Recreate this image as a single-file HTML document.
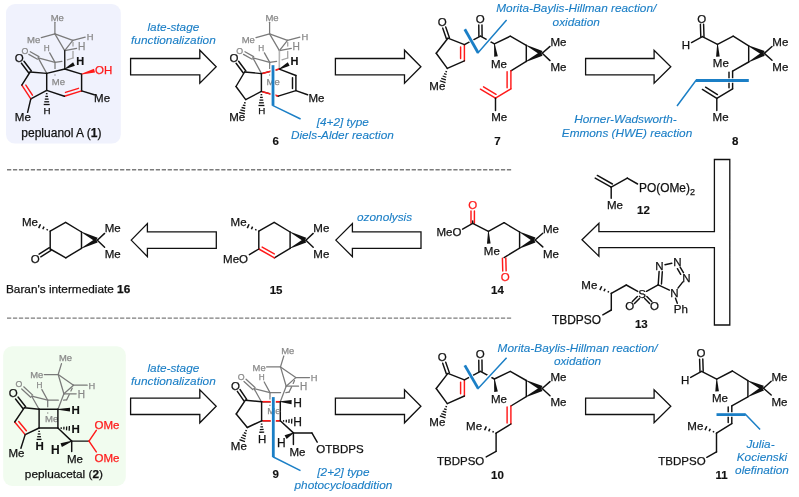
<!DOCTYPE html>
<html><head><meta charset="utf-8"><title>Retrosynthesis</title>
<style>
html,body{margin:0;padding:0;background:#fff;}
body{width:799px;height:497px;overflow:hidden;}
svg{display:block;will-change:transform;font-family:"Liberation Sans",sans-serif;}
</style></head><body>
<svg width="799" height="497" viewBox="0 0 799 497">
<rect width="799" height="497" fill="#fff"/>
<rect x="6" y="4" width="114.8" height="139.6" rx="9" ry="9" fill="#f0f2fd"/>
<rect x="3.2" y="346.3" width="122.6" height="139.7" rx="9" ry="9" fill="#f1fcef"/>
<line x1="7" y1="169.7" x2="511.3" y2="169.7" stroke="#7c7c7c" stroke-width="1.35" stroke-dasharray="4.25 1.701"/>
<line x1="7" y1="318.1" x2="511.3" y2="318.1" stroke="#7c7c7c" stroke-width="1.35" stroke-dasharray="4.25 1.701"/>
<polygon points="130.6,58.5 199.8,58.5 199.8,50.2 216.2,66.7 199.8,83.2 199.8,74.9 130.6,74.9" fill="#fff" stroke="#111" stroke-width="1.3" stroke-linejoin="miter"/>
<polygon points="335.4,58.5 404.5,58.5 404.5,50.2 420.9,66.7 404.5,83.2 404.5,74.9 335.4,74.9" fill="#fff" stroke="#111" stroke-width="1.3" stroke-linejoin="miter"/>
<polygon points="585.6,58.5 654.1,58.5 654.1,50.2 670.8,66.7 654.1,83.2 654.1,74.9 585.6,74.9" fill="#fff" stroke="#111" stroke-width="1.3" stroke-linejoin="miter"/>
<polygon points="130.6,398.1 199.8,398.1 199.8,389.8 216.2,406.3 199.8,422.8 199.8,414.5 130.6,414.5" fill="#fff" stroke="#111" stroke-width="1.3" stroke-linejoin="miter"/>
<polygon points="335.4,398.1 404.5,398.1 404.5,389.8 420.9,406.3 404.5,422.8 404.5,414.5 335.4,414.5" fill="#fff" stroke="#111" stroke-width="1.3" stroke-linejoin="miter"/>
<polygon points="585.6,398.1 654.1,398.1 654.1,389.8 670.8,406.3 654.1,422.8 654.1,414.5 585.6,414.5" fill="#fff" stroke="#111" stroke-width="1.3" stroke-linejoin="miter"/>
<polygon points="131.2,240.1 147.4,223.6 147.4,231.9 216.3,231.9 216.3,248.3 147.4,248.3 147.4,256.6" fill="#fff" stroke="#111" stroke-width="1.3" stroke-linejoin="miter"/>
<polygon points="335.8,240.1 352.4,223.6 352.4,231.9 421,231.9 421,248.3 352.4,248.3 352.4,256.6" fill="#fff" stroke="#111" stroke-width="1.3" stroke-linejoin="miter"/>
<polygon points="582,239.7 598.9,223.3 598.9,231.7 714.4,231.7 714.4,159.5 729.8,159.5 729.8,325 714.4,325 714.4,247.7 598.9,247.7 598.9,256.1" fill="#fff" stroke="#111" stroke-width="1.3" stroke-linejoin="miter"/>
<text x="57.3" y="20.62" font-size="9.5" fill="#8a8a8a" stroke="#8a8a8a" stroke-width="0.25" text-anchor="middle" font-weight="normal" font-style="normal">Me</text>
<line x1="54.9" y1="33.9" x2="54.9" y2="22.3" stroke="#7a7a7a" stroke-width="1.25" stroke-linecap="round"/>
<text x="33.6" y="43.03" font-size="9.5" fill="#8a8a8a" stroke="#8a8a8a" stroke-width="0.25" text-anchor="middle" font-weight="normal" font-style="normal">Me</text>
<line x1="54.9" y1="33.9" x2="41.3" y2="37.6" stroke="#7a7a7a" stroke-width="1.25" stroke-linecap="round"/>
<line x1="54.9" y1="33.9" x2="72.8" y2="40.3" stroke="#7a7a7a" stroke-width="1.25" stroke-linecap="round"/>
<line x1="54.9" y1="33.9" x2="64.7" y2="50.6" stroke="#7a7a7a" stroke-width="1.25" stroke-linecap="round"/>
<line x1="72.8" y1="40.3" x2="64.7" y2="50.6" stroke="#7a7a7a" stroke-width="1.25" stroke-linecap="round"/>
<text x="90.2" y="39.69" font-size="9.4" fill="#8a8a8a" stroke="#8a8a8a" stroke-width="0.25" text-anchor="middle" font-weight="normal" font-style="normal">H</text>
<line x1="72.8" y1="40.3" x2="85.2" y2="37.1" stroke="#7a7a7a" stroke-width="1.25" stroke-linecap="round"/>
<line x1="73" y1="42.5" x2="73" y2="46" stroke="#a4a4a4" stroke-width="1.3" stroke-linecap="round"/>
<line x1="73" y1="51.5" x2="73" y2="58" stroke="#a4a4a4" stroke-width="1.3" stroke-linecap="round"/>
<line x1="73" y1="58" x2="67.3" y2="59.8" stroke="#a4a4a4" stroke-width="1.3" stroke-linecap="round"/>
<line x1="61.9" y1="61.3" x2="55" y2="62.4" stroke="#7a7a7a" stroke-width="1.25" stroke-linecap="round"/>
<text x="81.6" y="50.47" font-size="10.2" fill="#8a8a8a" stroke="#8a8a8a" stroke-width="0.25" text-anchor="middle" font-weight="normal" font-style="normal">H</text>
<line x1="64.7" y1="50.6" x2="76.6" y2="48.3" stroke="#7a7a7a" stroke-width="1.25" stroke-linecap="round"/>
<text x="46.6" y="50.67" font-size="8.2" fill="#8a8a8a" stroke="#8a8a8a" stroke-width="0.25" text-anchor="middle" font-weight="normal" font-style="normal">H</text>
<line x1="55" y1="62.4" x2="49.7" y2="52.9" stroke="#7a7a7a" stroke-width="1.25" stroke-linecap="round"/>
<line x1="55" y1="62.4" x2="38.2" y2="57.9" stroke="#7a7a7a" stroke-width="1.25" stroke-linecap="round"/>
<line x1="38.93" y1="56.59" x2="30.27" y2="51.73" stroke="#7a7a7a" stroke-width="1.25" stroke-linecap="round"/>
<line x1="37.47" y1="59.21" x2="28.8" y2="54.35" stroke="#7a7a7a" stroke-width="1.25" stroke-linecap="round"/>
<text x="25" y="53.58" font-size="8.8" fill="#8a8a8a" stroke="#8a8a8a" stroke-width="0.25" text-anchor="middle" font-weight="normal" font-style="normal">O</text>
<line x1="38.2" y1="57.9" x2="46.7" y2="73.4" stroke="#7a7a7a" stroke-width="1.25" stroke-linecap="round"/>
<line x1="55" y1="62.4" x2="55" y2="69" stroke="#7a7a7a" stroke-width="1.25" stroke-linecap="butt"/>
<line x1="55" y1="74.4" x2="55" y2="75.6" stroke="#7a7a7a" stroke-width="1.25" stroke-linecap="butt"/>
<text x="58.4" y="84.53" font-size="9.5" fill="#8a8a8a" stroke="#8a8a8a" stroke-width="0.25" text-anchor="middle" font-weight="normal" font-style="normal">Me</text>
<line x1="64.7" y1="50.6" x2="64.8" y2="69" stroke="#222" stroke-width="1.45" stroke-linecap="round"/>
<text x="272" y="20.62" font-size="9.5" fill="#8a8a8a" stroke="#8a8a8a" stroke-width="0.25" text-anchor="middle" font-weight="normal" font-style="normal">Me</text>
<line x1="269.6" y1="33.9" x2="269.6" y2="22.3" stroke="#7a7a7a" stroke-width="1.25" stroke-linecap="round"/>
<text x="248.3" y="43.03" font-size="9.5" fill="#8a8a8a" stroke="#8a8a8a" stroke-width="0.25" text-anchor="middle" font-weight="normal" font-style="normal">Me</text>
<line x1="269.6" y1="33.9" x2="256" y2="37.6" stroke="#7a7a7a" stroke-width="1.25" stroke-linecap="round"/>
<line x1="269.6" y1="33.9" x2="287.5" y2="40.3" stroke="#7a7a7a" stroke-width="1.25" stroke-linecap="round"/>
<line x1="269.6" y1="33.9" x2="279.4" y2="50.6" stroke="#7a7a7a" stroke-width="1.25" stroke-linecap="round"/>
<line x1="287.5" y1="40.3" x2="279.4" y2="50.6" stroke="#7a7a7a" stroke-width="1.25" stroke-linecap="round"/>
<text x="304.9" y="39.69" font-size="9.4" fill="#8a8a8a" stroke="#8a8a8a" stroke-width="0.25" text-anchor="middle" font-weight="normal" font-style="normal">H</text>
<line x1="287.5" y1="40.3" x2="299.9" y2="37.1" stroke="#7a7a7a" stroke-width="1.25" stroke-linecap="round"/>
<line x1="287.7" y1="42.5" x2="287.7" y2="46" stroke="#a4a4a4" stroke-width="1.3" stroke-linecap="round"/>
<line x1="287.7" y1="51.5" x2="287.7" y2="58" stroke="#a4a4a4" stroke-width="1.3" stroke-linecap="round"/>
<line x1="287.7" y1="58" x2="282" y2="59.8" stroke="#a4a4a4" stroke-width="1.3" stroke-linecap="round"/>
<line x1="276.6" y1="61.3" x2="269.7" y2="62.4" stroke="#7a7a7a" stroke-width="1.25" stroke-linecap="round"/>
<text x="296.3" y="50.47" font-size="10.2" fill="#8a8a8a" stroke="#8a8a8a" stroke-width="0.25" text-anchor="middle" font-weight="normal" font-style="normal">H</text>
<line x1="279.4" y1="50.6" x2="291.3" y2="48.3" stroke="#7a7a7a" stroke-width="1.25" stroke-linecap="round"/>
<text x="261.3" y="50.67" font-size="8.2" fill="#8a8a8a" stroke="#8a8a8a" stroke-width="0.25" text-anchor="middle" font-weight="normal" font-style="normal">H</text>
<line x1="269.7" y1="62.4" x2="264.4" y2="52.9" stroke="#7a7a7a" stroke-width="1.25" stroke-linecap="round"/>
<line x1="269.7" y1="62.4" x2="252.9" y2="57.9" stroke="#7a7a7a" stroke-width="1.25" stroke-linecap="round"/>
<line x1="253.63" y1="56.59" x2="244.97" y2="51.73" stroke="#7a7a7a" stroke-width="1.25" stroke-linecap="round"/>
<line x1="252.17" y1="59.21" x2="243.5" y2="54.35" stroke="#7a7a7a" stroke-width="1.25" stroke-linecap="round"/>
<text x="239.7" y="53.58" font-size="8.8" fill="#8a8a8a" stroke="#8a8a8a" stroke-width="0.25" text-anchor="middle" font-weight="normal" font-style="normal">O</text>
<line x1="252.9" y1="57.9" x2="261.4" y2="73.4" stroke="#7a7a7a" stroke-width="1.25" stroke-linecap="round"/>
<line x1="269.7" y1="62.4" x2="269.7" y2="69" stroke="#7a7a7a" stroke-width="1.25" stroke-linecap="butt"/>
<line x1="269.7" y1="74.4" x2="269.7" y2="75.6" stroke="#7a7a7a" stroke-width="1.25" stroke-linecap="butt"/>
<line x1="279.4" y1="50.6" x2="279.3" y2="68.4" stroke="#b4b4b4" stroke-width="1.6" stroke-linecap="butt"/>
<line x1="31.38" y1="71.03" x2="23.98" y2="61.26" stroke="#111" stroke-width="1.45" stroke-linecap="round"/>
<line x1="28.82" y1="72.97" x2="21.42" y2="63.19" stroke="#111" stroke-width="1.45" stroke-linecap="round"/>
<text x="19.2" y="61.62" font-size="11.5" fill="#111" stroke="#111" stroke-width="0.25" text-anchor="middle" font-weight="normal" font-style="normal">O</text>
<line x1="30.1" y1="72" x2="46.7" y2="73.4" stroke="#111" stroke-width="1.45" stroke-linecap="round"/>
<line x1="46.7" y1="73.4" x2="64.8" y2="69" stroke="#111" stroke-width="1.45" stroke-linecap="round"/>
<line x1="64.8" y1="69" x2="81.6" y2="74.1" stroke="#111" stroke-width="1.45" stroke-linecap="round"/>
<line x1="81.6" y1="74.1" x2="81.6" y2="90.9" stroke="#111" stroke-width="1.45" stroke-linecap="round"/>
<line x1="81.6" y1="90.9" x2="64.4" y2="96.3" stroke="#ff1a1a" stroke-width="1.45" stroke-linecap="round"/>
<line x1="78.48" y1="88.32" x2="65.48" y2="92.4" stroke="#ff1a1a" stroke-width="1.45" stroke-linecap="round"/>
<line x1="64.4" y1="96.3" x2="46.7" y2="90.4" stroke="#111" stroke-width="1.45" stroke-linecap="round"/>
<line x1="46.7" y1="90.4" x2="46.7" y2="73.4" stroke="#111" stroke-width="1.45" stroke-linecap="round"/>
<line x1="46.7" y1="90.4" x2="30.8" y2="98.9" stroke="#111" stroke-width="1.45" stroke-linecap="round"/>
<line x1="30.8" y1="98.9" x2="21.8" y2="85.1" stroke="#ff1a1a" stroke-width="1.45" stroke-linecap="round"/>
<line x1="32.45" y1="95.2" x2="25.85" y2="85.09" stroke="#ff1a1a" stroke-width="1.45" stroke-linecap="round"/>
<line x1="21.8" y1="85.1" x2="30.1" y2="72" stroke="#111" stroke-width="1.45" stroke-linecap="round"/>
<line x1="81.6" y1="90.9" x2="94.3" y2="94.8" stroke="#111" stroke-width="1.45" stroke-linecap="round"/>
<text x="102.1" y="101.83" font-size="11.5" fill="#111" stroke="#111" stroke-width="0.25" text-anchor="middle" font-weight="normal" font-style="normal">Me</text>
<line x1="30.8" y1="98.9" x2="27.6" y2="112.3" stroke="#111" stroke-width="1.45" stroke-linecap="round"/>
<text x="22.8" y="120.83" font-size="11.5" fill="#111" stroke="#111" stroke-width="0.25" text-anchor="middle" font-weight="normal" font-style="normal">Me</text>
<line x1="45.89" y1="93.7" x2="47.51" y2="93.7" stroke="#111" stroke-width="1.3" stroke-linecap="butt"/>
<line x1="45.35" y1="96.4" x2="48.05" y2="96.4" stroke="#111" stroke-width="1.3" stroke-linecap="butt"/>
<line x1="44.81" y1="99.1" x2="48.59" y2="99.1" stroke="#111" stroke-width="1.3" stroke-linecap="butt"/>
<line x1="44.27" y1="101.8" x2="49.13" y2="101.8" stroke="#111" stroke-width="1.3" stroke-linecap="butt"/>
<line x1="43.73" y1="104.5" x2="49.67" y2="104.5" stroke="#111" stroke-width="1.3" stroke-linecap="butt"/>
<text x="47" y="113.93" font-size="9.8" fill="#111" stroke="#111" stroke-width="0.25" text-anchor="middle" font-weight="normal" font-style="normal">H</text>
<polygon points="64.97,69.31 74.91,65.67 73.09,62.33 64.63,68.69" fill="#111" stroke="none" stroke-width="0" stroke-linejoin="miter"/>
<text x="80.3" y="65.05" font-size="11" fill="#111" stroke="#111" stroke-width="0.15" text-anchor="middle" font-weight="bold" font-style="normal">H</text>
<polygon points="81.69,74.44 95,72.43 94,68.77 81.51,73.76" fill="#ff1a1a" stroke="none" stroke-width="0" stroke-linejoin="miter"/>
<text x="103.6" y="74.43" font-size="11.5" fill="#ff1a1a" stroke="#ff1a1a" stroke-width="0.25" text-anchor="middle" font-weight="normal" font-style="normal">OH</text>
<text x="61.4" y="136.8" font-size="12" fill="#111" stroke="#111" stroke-width="0.25" text-anchor="middle" font-weight="normal" font-style="normal">pepluanol A (<tspan font-weight="bold">1</tspan>)</text>
<line x1="245.88" y1="71.05" x2="238.64" y2="61.3" stroke="#111" stroke-width="1.45" stroke-linecap="round"/>
<line x1="243.32" y1="72.95" x2="236.08" y2="63.21" stroke="#111" stroke-width="1.45" stroke-linecap="round"/>
<text x="233.9" y="61.62" font-size="11.5" fill="#111" stroke="#111" stroke-width="0.25" text-anchor="middle" font-weight="normal" font-style="normal">O</text>
<line x1="244.6" y1="72" x2="261.4" y2="73.6" stroke="#111" stroke-width="1.45" stroke-linecap="round"/>
<line x1="261.4" y1="73.6" x2="279.3" y2="69.1" stroke="#111" stroke-width="1.45" stroke-linecap="round"/>
<line x1="279.3" y1="69.1" x2="295.9" y2="75.5" stroke="#111" stroke-width="1.45" stroke-linecap="round"/>
<line x1="295.9" y1="75.5" x2="295.9" y2="90.6" stroke="#111" stroke-width="1.45" stroke-linecap="round"/>
<line x1="292.5" y1="77.7" x2="292.5" y2="88.4" stroke="#111" stroke-width="1.45" stroke-linecap="round"/>
<line x1="295.9" y1="90.6" x2="278.2" y2="96.1" stroke="#111" stroke-width="1.45" stroke-linecap="round"/>
<line x1="278.2" y1="96.1" x2="261.4" y2="91.4" stroke="#111" stroke-width="1.45" stroke-linecap="round"/>
<line x1="261.4" y1="91.4" x2="261.4" y2="73.6" stroke="#111" stroke-width="1.45" stroke-linecap="round"/>
<line x1="261.4" y1="91.4" x2="245.7" y2="99.6" stroke="#111" stroke-width="1.45" stroke-linecap="round"/>
<line x1="245.7" y1="99.6" x2="236" y2="86.5" stroke="#111" stroke-width="1.45" stroke-linecap="round"/>
<line x1="236" y1="86.5" x2="244.6" y2="72" stroke="#111" stroke-width="1.45" stroke-linecap="round"/>
<line x1="262.29" y1="73.38" x2="279.3" y2="69.1" stroke="#ff1a1a" stroke-width="1.55" stroke-linecap="butt"/>
<line x1="262.24" y1="91.64" x2="278.2" y2="96.1" stroke="#ff1a1a" stroke-width="1.55" stroke-linecap="butt"/>
<line x1="295.9" y1="90.6" x2="307.6" y2="94.8" stroke="#111" stroke-width="1.45" stroke-linecap="round"/>
<text x="316.4" y="101.53" font-size="11.5" fill="#111" stroke="#111" stroke-width="0.25" text-anchor="middle" font-weight="normal" font-style="normal">Me</text>
<line x1="260.59" y1="94.7" x2="262.21" y2="94.7" stroke="#111" stroke-width="1.3" stroke-linecap="butt"/>
<line x1="260.05" y1="97.4" x2="262.75" y2="97.4" stroke="#111" stroke-width="1.3" stroke-linecap="butt"/>
<line x1="259.51" y1="100.1" x2="263.29" y2="100.1" stroke="#111" stroke-width="1.3" stroke-linecap="butt"/>
<line x1="258.97" y1="102.8" x2="263.83" y2="102.8" stroke="#111" stroke-width="1.3" stroke-linecap="butt"/>
<line x1="258.43" y1="105.5" x2="264.37" y2="105.5" stroke="#111" stroke-width="1.3" stroke-linecap="butt"/>
<text x="261.9" y="113.73" font-size="9.8" fill="#111" stroke="#111" stroke-width="0.25" text-anchor="middle" font-weight="normal" font-style="normal">H</text>
<line x1="244.05" y1="102.57" x2="245.62" y2="103" stroke="#111" stroke-width="1.3" stroke-linecap="butt"/>
<line x1="242.82" y1="105.04" x2="245.43" y2="105.74" stroke="#111" stroke-width="1.3" stroke-linecap="butt"/>
<line x1="241.59" y1="107.5" x2="245.24" y2="108.49" stroke="#111" stroke-width="1.3" stroke-linecap="butt"/>
<line x1="240.36" y1="109.96" x2="245.05" y2="111.24" stroke="#111" stroke-width="1.3" stroke-linecap="butt"/>
<line x1="239.13" y1="112.43" x2="244.86" y2="113.99" stroke="#111" stroke-width="1.3" stroke-linecap="butt"/>
<text x="237.2" y="121.43" font-size="11.5" fill="#111" stroke="#111" stroke-width="0.25" text-anchor="middle" font-weight="normal" font-style="normal">Me</text>
<polygon points="279.47,69.41 289.61,65.67 287.79,62.33 279.13,68.79" fill="#111" stroke="none" stroke-width="0" stroke-linejoin="miter"/>
<text x="294.5" y="65.05" font-size="11" fill="#111" stroke="#111" stroke-width="0.15" text-anchor="middle" font-weight="bold" font-style="normal">H</text>
<polyline points="273,65.2 273,105.6 300.6,119" fill="none" stroke="#fff" stroke-width="5" stroke-linejoin="miter" stroke-linecap="butt"/>
<text x="273.1" y="84.53" font-size="9.5" fill="#8a8a8a" stroke="#8a8a8a" stroke-width="0.25" text-anchor="middle" font-weight="normal" font-style="normal">Me</text>
<polyline points="273,65.2 273,105.6" fill="none" stroke="#1b7fc6" stroke-width="2.8" stroke-linejoin="miter" stroke-linecap="butt"/>
<polyline points="273,104.5 273,105.6 300.6,119" fill="none" stroke="#1b7fc6" stroke-width="1.5" stroke-linejoin="miter" stroke-linecap="butt"/>
<text x="275.8" y="145.33" font-size="11.5" fill="#111" stroke="#111" stroke-width="0.15" text-anchor="middle" font-weight="bold" font-style="normal">6</text>
<text x="342.8" y="125.7" font-size="11.8" fill="#1b7fc6" stroke="#1b7fc6" stroke-width="0.12" text-anchor="middle" font-weight="normal" font-style="italic">[4+2] type</text>
<text x="342.4" y="138.7" font-size="11.8" fill="#1b7fc6" stroke="#1b7fc6" stroke-width="0.12" text-anchor="middle" font-weight="normal" font-style="italic">Diels-Alder reaction</text>
<text x="173.4" y="30.8" font-size="11.8" fill="#1b7fc6" stroke="#1b7fc6" stroke-width="0.12" text-anchor="middle" font-weight="normal" font-style="italic">late-stage</text>
<text x="173.4" y="44.1" font-size="11.8" fill="#1b7fc6" stroke="#1b7fc6" stroke-width="0.12" text-anchor="middle" font-weight="normal" font-style="italic">functionalization</text>
<text x="173.4" y="371.9" font-size="11.8" fill="#1b7fc6" stroke="#1b7fc6" stroke-width="0.12" text-anchor="middle" font-weight="normal" font-style="italic">late-stage</text>
<text x="173.4" y="384.8" font-size="11.8" fill="#1b7fc6" stroke="#1b7fc6" stroke-width="0.12" text-anchor="middle" font-weight="normal" font-style="italic">functionalization</text>
<text x="384.6" y="221.3" font-size="11.8" fill="#1b7fc6" stroke="#1b7fc6" stroke-width="0.12" text-anchor="middle" font-weight="normal" font-style="italic">ozonolysis</text>
<line x1="449.41" y1="37.67" x2="445.72" y2="27.05" stroke="#111" stroke-width="1.45" stroke-linecap="round"/>
<line x1="446.39" y1="38.73" x2="442.69" y2="28.1" stroke="#111" stroke-width="1.45" stroke-linecap="round"/>
<text x="442.3" y="26.12" font-size="11.5" fill="#111" stroke="#111" stroke-width="0.25" text-anchor="middle" font-weight="normal" font-style="normal">O</text>
<line x1="447.9" y1="38.2" x2="464.4" y2="44.7" stroke="#111" stroke-width="1.45" stroke-linecap="round"/>
<line x1="464.4" y1="44.7" x2="464.4" y2="60.8" stroke="#ff1a1a" stroke-width="1.45" stroke-linecap="round"/>
<line x1="460.6" y1="46.9" x2="460.6" y2="58.6" stroke="#ff1a1a" stroke-width="1.45" stroke-linecap="round"/>
<line x1="464.4" y1="60.8" x2="447.3" y2="68.4" stroke="#111" stroke-width="1.45" stroke-linecap="round"/>
<line x1="447.3" y1="68.4" x2="436.2" y2="53.3" stroke="#111" stroke-width="1.45" stroke-linecap="round"/>
<line x1="436.2" y1="53.3" x2="447.9" y2="38.2" stroke="#111" stroke-width="1.45" stroke-linecap="round"/>
<line x1="445.46" y1="71.26" x2="446.99" y2="71.78" stroke="#111" stroke-width="1.3" stroke-linecap="butt"/>
<line x1="444.07" y1="73.63" x2="446.62" y2="74.51" stroke="#111" stroke-width="1.3" stroke-linecap="butt"/>
<line x1="442.68" y1="76.01" x2="446.25" y2="77.24" stroke="#111" stroke-width="1.3" stroke-linecap="butt"/>
<line x1="441.28" y1="78.38" x2="445.88" y2="79.97" stroke="#111" stroke-width="1.3" stroke-linecap="butt"/>
<line x1="439.89" y1="80.76" x2="445.51" y2="82.7" stroke="#111" stroke-width="1.3" stroke-linecap="butt"/>
<text x="437.3" y="90.43" font-size="11.5" fill="#111" stroke="#111" stroke-width="0.25" text-anchor="middle" font-weight="normal" font-style="normal">Me</text>
<line x1="464.4" y1="44.7" x2="480.5" y2="36.2" stroke="#111" stroke-width="1.45" stroke-linecap="round"/>
<line x1="482.1" y1="36.18" x2="481.97" y2="24.88" stroke="#111" stroke-width="1.45" stroke-linecap="round"/>
<line x1="478.9" y1="36.22" x2="478.77" y2="24.92" stroke="#111" stroke-width="1.45" stroke-linecap="round"/>
<text x="480.3" y="23.12" font-size="11.5" fill="#111" stroke="#111" stroke-width="0.25" text-anchor="middle" font-weight="normal" font-style="normal">O</text>
<line x1="480.5" y1="36.2" x2="494.4" y2="43.8" stroke="#111" stroke-width="1.45" stroke-linecap="round"/>
<polygon points="494.05,43.84 494.21,56.72 497.79,56.28 494.75,43.76" fill="#111" stroke="none" stroke-width="0" stroke-linejoin="miter"/>
<text x="498.9" y="68.03" font-size="11.5" fill="#111" stroke="#111" stroke-width="0.25" text-anchor="middle" font-weight="normal" font-style="normal">Me</text>
<line x1="494.4" y1="43.8" x2="510.3" y2="36.2" stroke="#111" stroke-width="1.45" stroke-linecap="round"/>
<line x1="510.3" y1="36.2" x2="526.3" y2="45.3" stroke="#111" stroke-width="1.45" stroke-linecap="round"/>
<line x1="526.3" y1="45.3" x2="526.3" y2="61.4" stroke="#111" stroke-width="1.45" stroke-linecap="round"/>
<polygon points="526.14,45.61 540.45,55 542.52,50.89 526.46,44.99" fill="#111" stroke="none" stroke-width="0" stroke-linejoin="miter"/>
<polygon points="526.46,61.71 542.53,55.71 540.44,51.61 526.14,61.09" fill="#111" stroke="none" stroke-width="0" stroke-linejoin="miter"/>
<line x1="542.2" y1="53.3" x2="550" y2="46.4" stroke="#111" stroke-width="1.45" stroke-linecap="round"/>
<text x="558.4" y="45.92" font-size="11.5" fill="#111" stroke="#111" stroke-width="0.25" text-anchor="middle" font-weight="normal" font-style="normal">Me</text>
<line x1="542.2" y1="53.3" x2="550" y2="60.6" stroke="#111" stroke-width="1.45" stroke-linecap="round"/>
<text x="558.4" y="70.83" font-size="11.5" fill="#111" stroke="#111" stroke-width="0.25" text-anchor="middle" font-weight="normal" font-style="normal">Me</text>
<line x1="526.3" y1="61.4" x2="510.9" y2="70.8" stroke="#111" stroke-width="1.45" stroke-linecap="round"/>
<line x1="510.9" y1="70.8" x2="510.9" y2="88.8" stroke="#ff1a1a" stroke-width="1.45" stroke-linecap="round"/>
<line x1="507.1" y1="71.8" x2="507.1" y2="87.8" stroke="#ff1a1a" stroke-width="1.45" stroke-linecap="round"/>
<line x1="510.9" y1="88.8" x2="495.5" y2="98.2" stroke="#ff1a1a" stroke-width="1.45" stroke-linecap="round"/>
<line x1="495.5" y1="98.2" x2="480.4" y2="89.2" stroke="#ff1a1a" stroke-width="1.45" stroke-linecap="round"/>
<line x1="496.05" y1="94.34" x2="483.53" y2="86.88" stroke="#ff1a1a" stroke-width="1.45" stroke-linecap="round"/>
<line x1="495.5" y1="98.2" x2="495.5" y2="110.4" stroke="#111" stroke-width="1.45" stroke-linecap="round"/>
<text x="499.2" y="121.03" font-size="11.5" fill="#111" stroke="#111" stroke-width="0.25" text-anchor="middle" font-weight="normal" font-style="normal">Me</text>
<text x="497.5" y="145.33" font-size="11.5" fill="#111" stroke="#111" stroke-width="0.15" text-anchor="middle" font-weight="bold" font-style="normal">7</text>
<polyline points="464.8,29.2 478.1,52.7 506.6,20.1" fill="none" stroke="#fff" stroke-width="4.5" stroke-linejoin="miter" stroke-linecap="butt"/>
<polyline points="464.8,29.2 478.1,52.7" fill="none" stroke="#1b7fc6" stroke-width="2.8" stroke-linejoin="miter" stroke-linecap="butt"/>
<polyline points="477.5,51.6 478.1,52.7 506.6,20.1" fill="none" stroke="#1b7fc6" stroke-width="1.5" stroke-linejoin="miter" stroke-linecap="butt"/>
<text x="496.3" y="12" font-size="11.8" fill="#1b7fc6" stroke="#1b7fc6" stroke-width="0.12" text-anchor="start" font-weight="normal" font-style="italic">Morita-Baylis-Hillman reaction/</text>
<text x="576.2" y="25.6" font-size="11.8" fill="#1b7fc6" stroke="#1b7fc6" stroke-width="0.12" text-anchor="middle" font-weight="normal" font-style="italic">oxidation</text>
<line x1="449.41" y1="372.87" x2="445.72" y2="362.25" stroke="#111" stroke-width="1.45" stroke-linecap="round"/>
<line x1="446.39" y1="373.93" x2="442.69" y2="363.3" stroke="#111" stroke-width="1.45" stroke-linecap="round"/>
<text x="442.3" y="361.32" font-size="11.5" fill="#111" stroke="#111" stroke-width="0.25" text-anchor="middle" font-weight="normal" font-style="normal">O</text>
<line x1="447.9" y1="373.4" x2="464.4" y2="379.9" stroke="#111" stroke-width="1.45" stroke-linecap="round"/>
<line x1="464.4" y1="379.9" x2="464.4" y2="396" stroke="#ff1a1a" stroke-width="1.45" stroke-linecap="round"/>
<line x1="460.6" y1="382.1" x2="460.6" y2="393.8" stroke="#ff1a1a" stroke-width="1.45" stroke-linecap="round"/>
<line x1="464.4" y1="396" x2="447.3" y2="403.6" stroke="#111" stroke-width="1.45" stroke-linecap="round"/>
<line x1="447.3" y1="403.6" x2="436.2" y2="388.5" stroke="#111" stroke-width="1.45" stroke-linecap="round"/>
<line x1="436.2" y1="388.5" x2="447.9" y2="373.4" stroke="#111" stroke-width="1.45" stroke-linecap="round"/>
<line x1="445.46" y1="406.46" x2="446.99" y2="406.98" stroke="#111" stroke-width="1.3" stroke-linecap="butt"/>
<line x1="444.07" y1="408.83" x2="446.62" y2="409.71" stroke="#111" stroke-width="1.3" stroke-linecap="butt"/>
<line x1="442.68" y1="411.21" x2="446.25" y2="412.44" stroke="#111" stroke-width="1.3" stroke-linecap="butt"/>
<line x1="441.28" y1="413.58" x2="445.88" y2="415.17" stroke="#111" stroke-width="1.3" stroke-linecap="butt"/>
<line x1="439.89" y1="415.96" x2="445.51" y2="417.9" stroke="#111" stroke-width="1.3" stroke-linecap="butt"/>
<text x="437.3" y="425.62" font-size="11.5" fill="#111" stroke="#111" stroke-width="0.25" text-anchor="middle" font-weight="normal" font-style="normal">Me</text>
<line x1="464.4" y1="379.9" x2="480.5" y2="371.4" stroke="#111" stroke-width="1.45" stroke-linecap="round"/>
<line x1="482.1" y1="371.38" x2="481.97" y2="360.08" stroke="#111" stroke-width="1.45" stroke-linecap="round"/>
<line x1="478.9" y1="371.42" x2="478.77" y2="360.12" stroke="#111" stroke-width="1.45" stroke-linecap="round"/>
<text x="480.3" y="358.32" font-size="11.5" fill="#111" stroke="#111" stroke-width="0.25" text-anchor="middle" font-weight="normal" font-style="normal">O</text>
<line x1="480.5" y1="371.4" x2="494.4" y2="379" stroke="#111" stroke-width="1.45" stroke-linecap="round"/>
<polygon points="494.05,379.04 494.21,391.92 497.79,391.48 494.75,378.96" fill="#111" stroke="none" stroke-width="0" stroke-linejoin="miter"/>
<text x="498.9" y="403.22" font-size="11.5" fill="#111" stroke="#111" stroke-width="0.25" text-anchor="middle" font-weight="normal" font-style="normal">Me</text>
<line x1="494.4" y1="379" x2="510.3" y2="371.4" stroke="#111" stroke-width="1.45" stroke-linecap="round"/>
<line x1="510.3" y1="371.4" x2="526.3" y2="380.5" stroke="#111" stroke-width="1.45" stroke-linecap="round"/>
<line x1="526.3" y1="380.5" x2="526.3" y2="396.6" stroke="#111" stroke-width="1.45" stroke-linecap="round"/>
<polygon points="526.14,380.81 540.45,390.2 542.52,386.09 526.46,380.19" fill="#111" stroke="none" stroke-width="0" stroke-linejoin="miter"/>
<polygon points="526.46,396.91 542.53,390.91 540.44,386.81 526.14,396.29" fill="#111" stroke="none" stroke-width="0" stroke-linejoin="miter"/>
<line x1="542.2" y1="388.5" x2="550" y2="381.6" stroke="#111" stroke-width="1.45" stroke-linecap="round"/>
<text x="558.4" y="381.12" font-size="11.5" fill="#111" stroke="#111" stroke-width="0.25" text-anchor="middle" font-weight="normal" font-style="normal">Me</text>
<line x1="542.2" y1="388.5" x2="550" y2="395.8" stroke="#111" stroke-width="1.45" stroke-linecap="round"/>
<text x="558.4" y="406.02" font-size="11.5" fill="#111" stroke="#111" stroke-width="0.25" text-anchor="middle" font-weight="normal" font-style="normal">Me</text>
<line x1="526.3" y1="396.6" x2="510.9" y2="406" stroke="#111" stroke-width="1.45" stroke-linecap="round"/>
<line x1="510.9" y1="406" x2="510.9" y2="424" stroke="#ff1a1a" stroke-width="1.45" stroke-linecap="round"/>
<line x1="507.1" y1="407" x2="507.1" y2="423" stroke="#ff1a1a" stroke-width="1.45" stroke-linecap="round"/>
<line x1="510.9" y1="424" x2="496.1" y2="433.2" stroke="#111" stroke-width="1.45" stroke-linecap="round"/>
<line x1="493.4" y1="431.17" x2="492.81" y2="432.46" stroke="#111" stroke-width="1.5" stroke-linecap="butt"/>
<line x1="489.89" y1="428.77" x2="488.69" y2="431.35" stroke="#111" stroke-width="1.5" stroke-linecap="butt"/>
<line x1="486.37" y1="426.36" x2="484.58" y2="430.24" stroke="#111" stroke-width="1.5" stroke-linecap="butt"/>
<text x="474.1" y="430.22" font-size="11.5" fill="#111" stroke="#111" stroke-width="0.25" text-anchor="middle" font-weight="normal" font-style="normal">Me</text>
<line x1="496.1" y1="433.2" x2="496.1" y2="451.3" stroke="#111" stroke-width="1.45" stroke-linecap="round"/>
<line x1="496.1" y1="451.3" x2="486.2" y2="456.9" stroke="#111" stroke-width="1.45" stroke-linecap="round"/>
<text x="484.3" y="465.42" font-size="11.5" fill="#111" stroke="#111" stroke-width="0.25" text-anchor="end" font-weight="normal" font-style="normal">TBDPSO</text>
<text x="497.5" y="478.52" font-size="11.5" fill="#111" stroke="#111" stroke-width="0.15" text-anchor="middle" font-weight="bold" font-style="normal">10</text>
<polyline points="464.8,365.4 478.1,388.4 506.6,357.8" fill="none" stroke="#fff" stroke-width="4.5" stroke-linejoin="miter" stroke-linecap="butt"/>
<polyline points="464.8,365.4 478.1,388.4" fill="none" stroke="#1b7fc6" stroke-width="2.8" stroke-linejoin="miter" stroke-linecap="butt"/>
<polyline points="477.5,387.3 478.1,388.4 506.6,357.8" fill="none" stroke="#1b7fc6" stroke-width="1.5" stroke-linejoin="miter" stroke-linecap="butt"/>
<text x="497.6" y="351.9" font-size="11.8" fill="#1b7fc6" stroke="#1b7fc6" stroke-width="0.12" text-anchor="start" font-weight="normal" font-style="italic">Morita-Baylis-Hillman reaction/</text>
<text x="577.5" y="365.2" font-size="11.8" fill="#1b7fc6" stroke="#1b7fc6" stroke-width="0.12" text-anchor="middle" font-weight="normal" font-style="italic">oxidation</text>
<line x1="704" y1="36.55" x2="703.59" y2="24.24" stroke="#111" stroke-width="1.45" stroke-linecap="round"/>
<line x1="700.8" y1="36.65" x2="700.39" y2="24.35" stroke="#111" stroke-width="1.45" stroke-linecap="round"/>
<text x="701.8" y="22.52" font-size="11.5" fill="#111" stroke="#111" stroke-width="0.25" text-anchor="middle" font-weight="normal" font-style="normal">O</text>
<line x1="702.4" y1="36.6" x2="691.5" y2="42.6" stroke="#111" stroke-width="1.45" stroke-linecap="round"/>
<text x="686" y="49.42" font-size="11.5" fill="#111" stroke="#111" stroke-width="0.25" text-anchor="middle" font-weight="normal" font-style="normal">H</text>
<line x1="702.4" y1="36.6" x2="717.5" y2="44.3" stroke="#111" stroke-width="1.45" stroke-linecap="round"/>
<polygon points="717.15,44.31 716.1,56.66 719.7,56.54 717.85,44.29" fill="#111" stroke="none" stroke-width="0" stroke-linejoin="miter"/>
<text x="720.8" y="67.23" font-size="11.5" fill="#111" stroke="#111" stroke-width="0.25" text-anchor="middle" font-weight="normal" font-style="normal">Me</text>
<line x1="717.5" y1="44.3" x2="733.2" y2="36.2" stroke="#111" stroke-width="1.45" stroke-linecap="round"/>
<line x1="733.2" y1="36.2" x2="748.7" y2="45.9" stroke="#111" stroke-width="1.45" stroke-linecap="round"/>
<line x1="748.7" y1="45.9" x2="748.7" y2="62" stroke="#111" stroke-width="1.45" stroke-linecap="round"/>
<polygon points="748.55,46.22 762.58,55.13 764.58,50.98 748.85,45.58" fill="#111" stroke="none" stroke-width="0" stroke-linejoin="miter"/>
<polygon points="748.87,62.31 764.71,55.8 762.49,51.77 748.53,61.69" fill="#111" stroke="none" stroke-width="0" stroke-linejoin="miter"/>
<line x1="764.3" y1="53.4" x2="772" y2="46.5" stroke="#111" stroke-width="1.45" stroke-linecap="round"/>
<text x="780.3" y="45.92" font-size="11.5" fill="#111" stroke="#111" stroke-width="0.25" text-anchor="middle" font-weight="normal" font-style="normal">Me</text>
<line x1="764.3" y1="53.4" x2="772" y2="60.2" stroke="#111" stroke-width="1.45" stroke-linecap="round"/>
<text x="780.3" y="70.83" font-size="11.5" fill="#111" stroke="#111" stroke-width="0.25" text-anchor="middle" font-weight="normal" font-style="normal">Me</text>
<line x1="748.7" y1="62" x2="732.6" y2="71.1" stroke="#111" stroke-width="1.45" stroke-linecap="round"/>
<line x1="732.6" y1="71.1" x2="732.6" y2="88.8" stroke="#111" stroke-width="1.45" stroke-linecap="round"/>
<line x1="729" y1="72.1" x2="729" y2="87.8" stroke="#111" stroke-width="1.45" stroke-linecap="round"/>
<line x1="732.6" y1="88.8" x2="716.8" y2="98.4" stroke="#111" stroke-width="1.45" stroke-linecap="round"/>
<line x1="716.8" y1="98.4" x2="702.4" y2="89.4" stroke="#111" stroke-width="1.45" stroke-linecap="round"/>
<line x1="717.44" y1="94.55" x2="705.58" y2="87.14" stroke="#111" stroke-width="1.45" stroke-linecap="round"/>
<line x1="716.8" y1="98.4" x2="716.8" y2="110.5" stroke="#111" stroke-width="1.45" stroke-linecap="round"/>
<text x="720.6" y="121.23" font-size="11.5" fill="#111" stroke="#111" stroke-width="0.25" text-anchor="middle" font-weight="normal" font-style="normal">Me</text>
<text x="735.3" y="145.22" font-size="11.5" fill="#111" stroke="#111" stroke-width="0.15" text-anchor="middle" font-weight="bold" font-style="normal">8</text>
<polyline points="748.8,80.5 695.9,80.5 677,106" fill="none" stroke="#fff" stroke-width="4.5" stroke-linejoin="miter" stroke-linecap="butt"/>
<polyline points="748.8,80.5 695.9,80.5" fill="none" stroke="#1b7fc6" stroke-width="2.8" stroke-linejoin="miter" stroke-linecap="butt"/>
<polyline points="697,80.5 695.9,80.5 677,106" fill="none" stroke="#1b7fc6" stroke-width="1.5" stroke-linejoin="miter" stroke-linecap="butt"/>
<text x="625.5" y="122.9" font-size="11.8" fill="#1b7fc6" stroke="#1b7fc6" stroke-width="0.12" text-anchor="middle" font-weight="normal" font-style="italic">Horner-Wadsworth-</text>
<text x="627" y="136.9" font-size="11.8" fill="#1b7fc6" stroke="#1b7fc6" stroke-width="0.12" text-anchor="middle" font-weight="normal" font-style="italic">Emmons (HWE) reaction</text>
<line x1="703.2" y1="371.35" x2="702.79" y2="359.04" stroke="#111" stroke-width="1.45" stroke-linecap="round"/>
<line x1="700" y1="371.45" x2="699.59" y2="359.15" stroke="#111" stroke-width="1.45" stroke-linecap="round"/>
<text x="701" y="357.32" font-size="11.5" fill="#111" stroke="#111" stroke-width="0.25" text-anchor="middle" font-weight="normal" font-style="normal">O</text>
<line x1="701.6" y1="371.4" x2="690.7" y2="377.4" stroke="#111" stroke-width="1.45" stroke-linecap="round"/>
<text x="685.2" y="384.22" font-size="11.5" fill="#111" stroke="#111" stroke-width="0.25" text-anchor="middle" font-weight="normal" font-style="normal">H</text>
<line x1="701.6" y1="371.4" x2="716.7" y2="379.1" stroke="#111" stroke-width="1.45" stroke-linecap="round"/>
<polygon points="716.35,379.11 715.3,391.46 718.9,391.34 717.05,379.09" fill="#111" stroke="none" stroke-width="0" stroke-linejoin="miter"/>
<text x="720" y="402.02" font-size="11.5" fill="#111" stroke="#111" stroke-width="0.25" text-anchor="middle" font-weight="normal" font-style="normal">Me</text>
<line x1="716.7" y1="379.1" x2="732.4" y2="371" stroke="#111" stroke-width="1.45" stroke-linecap="round"/>
<line x1="732.4" y1="371" x2="747.9" y2="380.7" stroke="#111" stroke-width="1.45" stroke-linecap="round"/>
<line x1="747.9" y1="380.7" x2="747.9" y2="396.8" stroke="#111" stroke-width="1.45" stroke-linecap="round"/>
<polygon points="747.75,381.02 761.78,389.93 763.78,385.78 748.05,380.38" fill="#111" stroke="none" stroke-width="0" stroke-linejoin="miter"/>
<polygon points="748.07,397.11 763.91,390.6 761.69,386.57 747.73,396.49" fill="#111" stroke="none" stroke-width="0" stroke-linejoin="miter"/>
<line x1="763.5" y1="388.2" x2="771.2" y2="381.3" stroke="#111" stroke-width="1.45" stroke-linecap="round"/>
<text x="779.5" y="380.72" font-size="11.5" fill="#111" stroke="#111" stroke-width="0.25" text-anchor="middle" font-weight="normal" font-style="normal">Me</text>
<line x1="763.5" y1="388.2" x2="771.2" y2="395" stroke="#111" stroke-width="1.45" stroke-linecap="round"/>
<text x="779.5" y="405.62" font-size="11.5" fill="#111" stroke="#111" stroke-width="0.25" text-anchor="middle" font-weight="normal" font-style="normal">Me</text>
<line x1="747.9" y1="396.8" x2="731.8" y2="405.9" stroke="#111" stroke-width="1.45" stroke-linecap="round"/>
<line x1="731.8" y1="405.9" x2="731.8" y2="423.6" stroke="#111" stroke-width="1.45" stroke-linecap="round"/>
<line x1="728.2" y1="406.9" x2="728.2" y2="422.6" stroke="#111" stroke-width="1.45" stroke-linecap="round"/>
<line x1="731.8" y1="423.6" x2="716.5" y2="433.2" stroke="#111" stroke-width="1.45" stroke-linecap="round"/>
<line x1="713.82" y1="431.15" x2="713.21" y2="432.44" stroke="#111" stroke-width="1.5" stroke-linecap="butt"/>
<line x1="710.32" y1="428.71" x2="709.11" y2="431.29" stroke="#111" stroke-width="1.5" stroke-linecap="butt"/>
<line x1="706.83" y1="426.28" x2="705.01" y2="430.14" stroke="#111" stroke-width="1.5" stroke-linecap="butt"/>
<text x="695.3" y="430.22" font-size="11.5" fill="#111" stroke="#111" stroke-width="0.25" text-anchor="middle" font-weight="normal" font-style="normal">Me</text>
<line x1="716.5" y1="433.2" x2="716.5" y2="451.9" stroke="#111" stroke-width="1.45" stroke-linecap="round"/>
<line x1="716.5" y1="451.9" x2="706.8" y2="457.3" stroke="#111" stroke-width="1.45" stroke-linecap="round"/>
<text x="705.6" y="465.42" font-size="11.5" fill="#111" stroke="#111" stroke-width="0.25" text-anchor="end" font-weight="normal" font-style="normal">TBDPSO</text>
<text x="721.5" y="478.52" font-size="11.5" fill="#111" stroke="#111" stroke-width="0.15" text-anchor="middle" font-weight="bold" font-style="normal">11</text>
<polyline points="716.5,414.6 745.6,414.6 760.1,429.6" fill="none" stroke="#fff" stroke-width="4.5" stroke-linejoin="miter" stroke-linecap="butt"/>
<polyline points="716.5,414.6 745.6,414.6" fill="none" stroke="#1b7fc6" stroke-width="2.8" stroke-linejoin="miter" stroke-linecap="butt"/>
<polyline points="744.5,414.6 745.6,414.6 760.1,429.6" fill="none" stroke="#1b7fc6" stroke-width="1.5" stroke-linejoin="miter" stroke-linecap="butt"/>
<text x="760.5" y="447.7" font-size="11.8" fill="#1b7fc6" stroke="#1b7fc6" stroke-width="0.12" text-anchor="middle" font-weight="normal" font-style="italic">Julia-</text>
<text x="762" y="460.6" font-size="11.8" fill="#1b7fc6" stroke="#1b7fc6" stroke-width="0.12" text-anchor="middle" font-weight="normal" font-style="italic">Kocienski</text>
<text x="762" y="473.6" font-size="11.8" fill="#1b7fc6" stroke="#1b7fc6" stroke-width="0.12" text-anchor="middle" font-weight="normal" font-style="italic">olefination</text>
<line x1="611.2" y1="187.2" x2="595.2" y2="178.1" stroke="#111" stroke-width="1.45" stroke-linecap="round"/>
<line x1="612.45" y1="184" x2="597.32" y2="175.39" stroke="#111" stroke-width="1.45" stroke-linecap="round"/>
<line x1="611.2" y1="187.2" x2="627.3" y2="178.1" stroke="#111" stroke-width="1.45" stroke-linecap="round"/>
<line x1="627.3" y1="178.1" x2="637.6" y2="184" stroke="#111" stroke-width="1.45" stroke-linecap="round"/>
<text x="639" y="192.3" font-size="11.9" fill="#111" stroke="#111" stroke-width="0.25" text-anchor="start" font-weight="normal" font-style="normal">PO(OMe)<tspan font-size="9" dy="2.5">2</tspan></text>
<line x1="611.2" y1="187.2" x2="611.2" y2="198.3" stroke="#111" stroke-width="1.45" stroke-linecap="round"/>
<text x="614.9" y="209.33" font-size="11.5" fill="#111" stroke="#111" stroke-width="0.25" text-anchor="middle" font-weight="normal" font-style="normal">Me</text>
<text x="643.4" y="214.33" font-size="11.5" fill="#111" stroke="#111" stroke-width="0.15" text-anchor="middle" font-weight="bold" font-style="normal">12</text>
<text x="589.3" y="289.02" font-size="11.5" fill="#111" stroke="#111" stroke-width="0.25" text-anchor="middle" font-weight="normal" font-style="normal">Me</text>
<line x1="608.65" y1="291.2" x2="608.03" y2="292.48" stroke="#111" stroke-width="1.5" stroke-linecap="butt"/>
<line x1="605.2" y1="288.71" x2="603.94" y2="291.27" stroke="#111" stroke-width="1.5" stroke-linecap="butt"/>
<line x1="601.75" y1="286.21" x2="599.86" y2="290.05" stroke="#111" stroke-width="1.5" stroke-linecap="butt"/>
<line x1="611.3" y1="293.3" x2="626.3" y2="285" stroke="#111" stroke-width="1.45" stroke-linecap="round"/>
<line x1="626.3" y1="285" x2="637.73" y2="291.37" stroke="#111" stroke-width="1.45" stroke-linecap="round"/>
<text x="642.1" y="297.82" font-size="11.5" fill="#111" stroke="#111" stroke-width="0.25" text-anchor="middle" font-weight="normal" font-style="normal">S</text>
<line x1="637.37" y1="296.44" x2="632.37" y2="301.48" stroke="#111" stroke-width="1.45" stroke-linecap="round"/>
<line x1="639.5" y1="298.55" x2="634.5" y2="303.59" stroke="#111" stroke-width="1.45" stroke-linecap="round"/>
<line x1="644.68" y1="298.56" x2="649.61" y2="303.57" stroke="#111" stroke-width="1.45" stroke-linecap="round"/>
<line x1="646.82" y1="296.45" x2="651.75" y2="301.47" stroke="#111" stroke-width="1.45" stroke-linecap="round"/>
<text x="629.7" y="310.32" font-size="11.5" fill="#111" stroke="#111" stroke-width="0.25" text-anchor="middle" font-weight="normal" font-style="normal">O</text>
<text x="654.4" y="310.32" font-size="11.5" fill="#111" stroke="#111" stroke-width="0.25" text-anchor="middle" font-weight="normal" font-style="normal">O</text>
<line x1="646.46" y1="291.36" x2="658.2" y2="284.8" stroke="#111" stroke-width="1.45" stroke-linecap="round"/>
<line x1="658.2" y1="284.8" x2="659.12" y2="271.39" stroke="#111" stroke-width="1.45" stroke-linecap="round"/>
<line x1="661.46" y1="284.02" x2="662.31" y2="271.61" stroke="#111" stroke-width="1.45" stroke-linecap="round"/>
<line x1="664.99" y1="264.69" x2="671.81" y2="263.31" stroke="#111" stroke-width="1.45" stroke-linecap="round"/>
<line x1="680.14" y1="267.03" x2="683.46" y2="272.67" stroke="#111" stroke-width="1.45" stroke-linecap="round"/>
<line x1="677.38" y1="268.65" x2="680.7" y2="274.3" stroke="#111" stroke-width="1.45" stroke-linecap="round"/>
<line x1="682.84" y1="281.9" x2="677.96" y2="288.1" stroke="#111" stroke-width="1.45" stroke-linecap="round"/>
<line x1="669.44" y1="290.11" x2="658.2" y2="284.8" stroke="#111" stroke-width="1.45" stroke-linecap="round"/>
<text x="659.5" y="269.82" font-size="11.5" fill="#111" stroke="#111" stroke-width="0.25" text-anchor="middle" font-weight="normal" font-style="normal">N</text>
<text x="677.3" y="266.22" font-size="11.5" fill="#111" stroke="#111" stroke-width="0.25" text-anchor="middle" font-weight="normal" font-style="normal">N</text>
<text x="686.3" y="281.52" font-size="11.5" fill="#111" stroke="#111" stroke-width="0.25" text-anchor="middle" font-weight="normal" font-style="normal">N</text>
<text x="674.5" y="296.52" font-size="11.5" fill="#111" stroke="#111" stroke-width="0.25" text-anchor="middle" font-weight="normal" font-style="normal">N</text>
<line x1="675.5" y1="298.3" x2="677.3" y2="303.2" stroke="#111" stroke-width="1.45" stroke-linecap="round"/>
<text x="680.8" y="312.82" font-size="11.5" fill="#111" stroke="#111" stroke-width="0.25" text-anchor="middle" font-weight="normal" font-style="normal">Ph</text>
<line x1="611.3" y1="293.3" x2="611.3" y2="310" stroke="#111" stroke-width="1.45" stroke-linecap="round"/>
<line x1="611.3" y1="310" x2="602.8" y2="314.8" stroke="#111" stroke-width="1.45" stroke-linecap="round"/>
<text x="600.9" y="323.87" font-size="11.9" fill="#111" stroke="#111" stroke-width="0.25" text-anchor="end" font-weight="normal" font-style="normal">TBDPSO</text>
<text x="641.3" y="327.82" font-size="11.5" fill="#111" stroke="#111" stroke-width="0.15" text-anchor="middle" font-weight="bold" font-style="normal">13</text>
<line x1="474.4" y1="223.3" x2="474.4" y2="211" stroke="#ff1a1a" stroke-width="1.45" stroke-linecap="round"/>
<line x1="471" y1="223.3" x2="471" y2="211" stroke="#ff1a1a" stroke-width="1.45" stroke-linecap="round"/>
<line x1="472.7" y1="223.3" x2="472.7" y2="221" stroke="#111" stroke-width="1.45" stroke-linecap="round"/>
<text x="472.7" y="209.22" font-size="11.5" fill="#ff1a1a" stroke="#ff1a1a" stroke-width="0.25" text-anchor="middle" font-weight="normal" font-style="normal">O</text>
<line x1="472.7" y1="223.3" x2="462.6" y2="229.2" stroke="#111" stroke-width="1.45" stroke-linecap="round"/>
<text x="461.4" y="236.03" font-size="11.5" fill="#111" stroke="#111" stroke-width="0.25" text-anchor="end" font-weight="normal" font-style="normal">MeO</text>
<line x1="472.7" y1="223.3" x2="488.4" y2="231.4" stroke="#111" stroke-width="1.45" stroke-linecap="round"/>
<polygon points="488.05,231.41 487,243.66 490.6,243.54 488.75,231.39" fill="#111" stroke="none" stroke-width="0" stroke-linejoin="miter"/>
<text x="491.8" y="254.72" font-size="11.5" fill="#111" stroke="#111" stroke-width="0.25" text-anchor="middle" font-weight="normal" font-style="normal">Me</text>
<line x1="488.4" y1="231.4" x2="504.1" y2="222.7" stroke="#111" stroke-width="1.45" stroke-linecap="round"/>
<line x1="504.1" y1="222.7" x2="519.6" y2="232" stroke="#111" stroke-width="1.45" stroke-linecap="round"/>
<line x1="519.6" y1="232" x2="519.6" y2="248.1" stroke="#111" stroke-width="1.45" stroke-linecap="round"/>
<polygon points="519.44,232.31 533.33,241.68 535.44,237.59 519.76,231.69" fill="#111" stroke="none" stroke-width="0" stroke-linejoin="miter"/>
<polygon points="519.76,248.41 535.46,242.41 533.33,238.33 519.44,247.79" fill="#111" stroke="none" stroke-width="0" stroke-linejoin="miter"/>
<line x1="535.1" y1="240" x2="542.8" y2="233.2" stroke="#111" stroke-width="1.45" stroke-linecap="round"/>
<text x="551" y="232.93" font-size="11.5" fill="#111" stroke="#111" stroke-width="0.25" text-anchor="middle" font-weight="normal" font-style="normal">Me</text>
<line x1="535.1" y1="240" x2="542.8" y2="246.9" stroke="#111" stroke-width="1.45" stroke-linecap="round"/>
<text x="551" y="258.12" font-size="11.5" fill="#111" stroke="#111" stroke-width="0.25" text-anchor="middle" font-weight="normal" font-style="normal">Me</text>
<line x1="519.6" y1="248.1" x2="504.1" y2="257.6" stroke="#111" stroke-width="1.45" stroke-linecap="round"/>
<line x1="502.41" y1="258.14" x2="502.75" y2="270.95" stroke="#ff1a1a" stroke-width="1.45" stroke-linecap="round"/>
<line x1="505.81" y1="258.06" x2="506.15" y2="270.86" stroke="#ff1a1a" stroke-width="1.45" stroke-linecap="round"/>
<text x="505.3" y="280.72" font-size="11.5" fill="#ff1a1a" stroke="#ff1a1a" stroke-width="0.25" text-anchor="middle" font-weight="normal" font-style="normal">O</text>
<text x="497.5" y="294.02" font-size="11.5" fill="#111" stroke="#111" stroke-width="0.15" text-anchor="middle" font-weight="bold" font-style="normal">14</text>
<line x1="50.2" y1="231.1" x2="65.6" y2="222.4" stroke="#111" stroke-width="1.45" stroke-linecap="round"/>
<line x1="65.6" y1="222.4" x2="81.5" y2="232" stroke="#111" stroke-width="1.45" stroke-linecap="round"/>
<line x1="81.5" y1="232" x2="81.5" y2="248.3" stroke="#111" stroke-width="1.45" stroke-linecap="round"/>
<line x1="81.5" y1="248.3" x2="65.8" y2="257.8" stroke="#111" stroke-width="1.45" stroke-linecap="round"/>
<line x1="50.2" y1="249" x2="50.2" y2="231.1" stroke="#111" stroke-width="1.45" stroke-linecap="round"/>
<polygon points="81.34,232.31 95.53,241.87 97.65,237.79 81.66,231.69" fill="#111" stroke="none" stroke-width="0" stroke-linejoin="miter"/>
<polygon points="81.66,248.61 97.64,242.61 95.54,238.52 81.34,247.99" fill="#111" stroke="none" stroke-width="0" stroke-linejoin="miter"/>
<line x1="97.3" y1="240.2" x2="104.6" y2="233.4" stroke="#111" stroke-width="1.45" stroke-linecap="round"/>
<text x="112.7" y="232.12" font-size="11.5" fill="#111" stroke="#111" stroke-width="0.25" text-anchor="middle" font-weight="normal" font-style="normal">Me</text>
<line x1="97.3" y1="240.2" x2="104.6" y2="247.3" stroke="#111" stroke-width="1.45" stroke-linecap="round"/>
<text x="112.7" y="257.52" font-size="11.5" fill="#111" stroke="#111" stroke-width="0.25" text-anchor="middle" font-weight="normal" font-style="normal">Me</text>
<line x1="47.5" y1="229.07" x2="46.91" y2="230.36" stroke="#111" stroke-width="1.5" stroke-linecap="butt"/>
<line x1="43.99" y1="226.66" x2="42.79" y2="229.25" stroke="#111" stroke-width="1.5" stroke-linecap="butt"/>
<line x1="40.47" y1="224.25" x2="38.68" y2="228.14" stroke="#111" stroke-width="1.5" stroke-linecap="butt"/>
<text x="30" y="226.43" font-size="11.5" fill="#111" stroke="#111" stroke-width="0.25" text-anchor="middle" font-weight="normal" font-style="normal">Me</text>
<line x1="65.8" y1="257.8" x2="50.2" y2="249" stroke="#111" stroke-width="1.45" stroke-linecap="round"/>
<line x1="49.34" y1="247.65" x2="39.07" y2="254.15" stroke="#111" stroke-width="1.45" stroke-linecap="round"/>
<line x1="51.06" y1="250.35" x2="40.79" y2="256.86" stroke="#111" stroke-width="1.45" stroke-linecap="round"/>
<text x="35.2" y="262.52" font-size="11.5" fill="#111" stroke="#111" stroke-width="0.25" text-anchor="middle" font-weight="normal" font-style="normal">O</text>
<text x="6" y="293.3" font-size="11.8" fill="#111" stroke="#111" stroke-width="0.25" text-anchor="start" font-weight="normal" font-style="normal">Baran's intermediate <tspan font-weight="bold">16</tspan></text>
<line x1="258.8" y1="231.1" x2="274.2" y2="222.4" stroke="#111" stroke-width="1.45" stroke-linecap="round"/>
<line x1="274.2" y1="222.4" x2="290.1" y2="232" stroke="#111" stroke-width="1.45" stroke-linecap="round"/>
<line x1="290.1" y1="232" x2="290.1" y2="248.3" stroke="#111" stroke-width="1.45" stroke-linecap="round"/>
<line x1="290.1" y1="248.3" x2="274.4" y2="257.8" stroke="#111" stroke-width="1.45" stroke-linecap="round"/>
<line x1="258.8" y1="249" x2="258.8" y2="231.1" stroke="#111" stroke-width="1.45" stroke-linecap="round"/>
<polygon points="289.94,232.31 304.13,241.87 306.25,237.79 290.26,231.69" fill="#111" stroke="none" stroke-width="0" stroke-linejoin="miter"/>
<polygon points="290.26,248.61 306.24,242.61 304.14,238.52 289.94,247.99" fill="#111" stroke="none" stroke-width="0" stroke-linejoin="miter"/>
<line x1="305.9" y1="240.2" x2="313.2" y2="233.4" stroke="#111" stroke-width="1.45" stroke-linecap="round"/>
<text x="321.3" y="232.12" font-size="11.5" fill="#111" stroke="#111" stroke-width="0.25" text-anchor="middle" font-weight="normal" font-style="normal">Me</text>
<line x1="305.9" y1="240.2" x2="313.2" y2="247.3" stroke="#111" stroke-width="1.45" stroke-linecap="round"/>
<text x="321.3" y="257.52" font-size="11.5" fill="#111" stroke="#111" stroke-width="0.25" text-anchor="middle" font-weight="normal" font-style="normal">Me</text>
<line x1="256.1" y1="229.07" x2="255.51" y2="230.36" stroke="#111" stroke-width="1.5" stroke-linecap="butt"/>
<line x1="252.59" y1="226.66" x2="251.39" y2="229.25" stroke="#111" stroke-width="1.5" stroke-linecap="butt"/>
<line x1="249.07" y1="224.25" x2="247.28" y2="228.14" stroke="#111" stroke-width="1.5" stroke-linecap="butt"/>
<text x="238.6" y="226.43" font-size="11.5" fill="#111" stroke="#111" stroke-width="0.25" text-anchor="middle" font-weight="normal" font-style="normal">Me</text>
<line x1="258.8" y1="249" x2="274.4" y2="257.8" stroke="#ff1a1a" stroke-width="1.45" stroke-linecap="round"/>
<line x1="262.16" y1="247.11" x2="274.28" y2="253.94" stroke="#ff1a1a" stroke-width="1.45" stroke-linecap="round"/>
<line x1="258.8" y1="249" x2="249.4" y2="254.7" stroke="#111" stroke-width="1.45" stroke-linecap="round"/>
<text x="248" y="262.82" font-size="11.5" fill="#111" stroke="#111" stroke-width="0.25" text-anchor="end" font-weight="normal" font-style="normal">MeO</text>
<text x="276.1" y="294.22" font-size="11.5" fill="#111" stroke="#111" stroke-width="0.15" text-anchor="middle" font-weight="bold" font-style="normal">15</text>
<text x="65.4" y="361.39" font-size="9.4" fill="#8a8a8a" stroke="#8a8a8a" stroke-width="0.25" text-anchor="middle" font-weight="normal" font-style="normal">Me</text>
<line x1="58.2" y1="374.5" x2="61.5" y2="363.6" stroke="#7a7a7a" stroke-width="1.25" stroke-linecap="round"/>
<text x="36.8" y="378.49" font-size="9.4" fill="#8a8a8a" stroke="#8a8a8a" stroke-width="0.25" text-anchor="middle" font-weight="normal" font-style="normal">Me</text>
<line x1="58.2" y1="374.5" x2="44.3" y2="374.5" stroke="#7a7a7a" stroke-width="1.25" stroke-linecap="round"/>
<line x1="58.2" y1="374.5" x2="73.5" y2="385.2" stroke="#7a7a7a" stroke-width="1.25" stroke-linecap="round"/>
<line x1="58.2" y1="374.5" x2="63.9" y2="393.8" stroke="#7a7a7a" stroke-width="1.25" stroke-linecap="round"/>
<line x1="73.5" y1="385.2" x2="63.9" y2="393.8" stroke="#7a7a7a" stroke-width="1.25" stroke-linecap="round"/>
<text x="91.9" y="388.86" font-size="9.3" fill="#8a8a8a" stroke="#8a8a8a" stroke-width="0.25" text-anchor="middle" font-weight="normal" font-style="normal">H</text>
<line x1="73.5" y1="385.2" x2="87.2" y2="385.2" stroke="#7a7a7a" stroke-width="1.25" stroke-linecap="round"/>
<text x="81.4" y="397.7" font-size="10" fill="#8a8a8a" stroke="#8a8a8a" stroke-width="0.25" text-anchor="middle" font-weight="normal" font-style="normal">H</text>
<line x1="63.9" y1="393.8" x2="76.2" y2="393.8" stroke="#7a7a7a" stroke-width="1.25" stroke-linecap="round"/>
<line x1="63.9" y1="393.8" x2="58" y2="409.3" stroke="#7a7a7a" stroke-width="1.25" stroke-linecap="round"/>
<line x1="72.2" y1="388.2" x2="70.9" y2="391" stroke="#7a7a7a" stroke-width="1.25" stroke-linecap="round"/>
<line x1="69.3" y1="394.5" x2="66.7" y2="399.8" stroke="#7a7a7a" stroke-width="1.25" stroke-linecap="round"/>
<line x1="66.7" y1="399.8" x2="63.6" y2="400.2" stroke="#7a7a7a" stroke-width="1.25" stroke-linecap="round"/>
<line x1="58.3" y1="400.2" x2="47.7" y2="400.2" stroke="#7a7a7a" stroke-width="1.25" stroke-linecap="round"/>
<text x="39.4" y="388.07" font-size="8.2" fill="#8a8a8a" stroke="#8a8a8a" stroke-width="0.25" text-anchor="middle" font-weight="normal" font-style="normal">H</text>
<line x1="47.7" y1="400.2" x2="41.9" y2="389.6" stroke="#7a7a7a" stroke-width="1.25" stroke-linecap="round"/>
<line x1="47.7" y1="400.2" x2="31.7" y2="396.2" stroke="#7a7a7a" stroke-width="1.25" stroke-linecap="round"/>
<line x1="32.72" y1="395.1" x2="23.74" y2="386.82" stroke="#7a7a7a" stroke-width="1.25" stroke-linecap="round"/>
<line x1="30.68" y1="397.3" x2="21.71" y2="389.03" stroke="#7a7a7a" stroke-width="1.25" stroke-linecap="round"/>
<text x="18.9" y="387.48" font-size="8.8" fill="#8a8a8a" stroke="#8a8a8a" stroke-width="0.25" text-anchor="middle" font-weight="normal" font-style="normal">O</text>
<line x1="31.7" y1="396.2" x2="39.1" y2="409.3" stroke="#7a7a7a" stroke-width="1.25" stroke-linecap="round"/>
<line x1="47.7" y1="400.2" x2="47.7" y2="407.2" stroke="#7a7a7a" stroke-width="1.25" stroke-linecap="butt"/>
<line x1="47.7" y1="412.4" x2="47.7" y2="413.5" stroke="#7a7a7a" stroke-width="1.25" stroke-linecap="butt"/>
<text x="51.6" y="421.93" font-size="9.5" fill="#8a8a8a" stroke="#8a8a8a" stroke-width="0.25" text-anchor="middle" font-weight="normal" font-style="normal">Me</text>
<text x="287.7" y="353.79" font-size="9.4" fill="#8a8a8a" stroke="#8a8a8a" stroke-width="0.25" text-anchor="middle" font-weight="normal" font-style="normal">Me</text>
<line x1="280.5" y1="366.9" x2="283.8" y2="356" stroke="#7a7a7a" stroke-width="1.25" stroke-linecap="round"/>
<text x="259.1" y="370.89" font-size="9.4" fill="#8a8a8a" stroke="#8a8a8a" stroke-width="0.25" text-anchor="middle" font-weight="normal" font-style="normal">Me</text>
<line x1="280.5" y1="366.9" x2="266.6" y2="366.9" stroke="#7a7a7a" stroke-width="1.25" stroke-linecap="round"/>
<line x1="280.5" y1="366.9" x2="295.8" y2="377.6" stroke="#7a7a7a" stroke-width="1.25" stroke-linecap="round"/>
<line x1="280.5" y1="366.9" x2="286.2" y2="386.2" stroke="#7a7a7a" stroke-width="1.25" stroke-linecap="round"/>
<line x1="295.8" y1="377.6" x2="286.2" y2="386.2" stroke="#7a7a7a" stroke-width="1.25" stroke-linecap="round"/>
<text x="314.2" y="381.25" font-size="9.3" fill="#8a8a8a" stroke="#8a8a8a" stroke-width="0.25" text-anchor="middle" font-weight="normal" font-style="normal">H</text>
<line x1="295.8" y1="377.6" x2="309.5" y2="377.6" stroke="#7a7a7a" stroke-width="1.25" stroke-linecap="round"/>
<text x="303.7" y="390.1" font-size="10" fill="#8a8a8a" stroke="#8a8a8a" stroke-width="0.25" text-anchor="middle" font-weight="normal" font-style="normal">H</text>
<line x1="286.2" y1="386.2" x2="298.5" y2="386.2" stroke="#7a7a7a" stroke-width="1.25" stroke-linecap="round"/>
<line x1="286.2" y1="386.2" x2="280.3" y2="401.7" stroke="#7a7a7a" stroke-width="1.25" stroke-linecap="round"/>
<line x1="294.5" y1="380.6" x2="293.2" y2="383.4" stroke="#7a7a7a" stroke-width="1.25" stroke-linecap="round"/>
<line x1="291.6" y1="386.9" x2="289" y2="392.2" stroke="#7a7a7a" stroke-width="1.25" stroke-linecap="round"/>
<line x1="289" y1="392.2" x2="285.9" y2="392.6" stroke="#7a7a7a" stroke-width="1.25" stroke-linecap="round"/>
<line x1="280.6" y1="392.6" x2="270" y2="392.6" stroke="#7a7a7a" stroke-width="1.25" stroke-linecap="round"/>
<text x="261.7" y="380.47" font-size="8.2" fill="#8a8a8a" stroke="#8a8a8a" stroke-width="0.25" text-anchor="middle" font-weight="normal" font-style="normal">H</text>
<line x1="270" y1="392.6" x2="264.2" y2="382" stroke="#7a7a7a" stroke-width="1.25" stroke-linecap="round"/>
<line x1="270" y1="392.6" x2="254" y2="388.6" stroke="#7a7a7a" stroke-width="1.25" stroke-linecap="round"/>
<line x1="255.02" y1="387.5" x2="246.04" y2="379.22" stroke="#7a7a7a" stroke-width="1.25" stroke-linecap="round"/>
<line x1="252.98" y1="389.7" x2="244.01" y2="381.43" stroke="#7a7a7a" stroke-width="1.25" stroke-linecap="round"/>
<text x="241.2" y="379.88" font-size="8.8" fill="#8a8a8a" stroke="#8a8a8a" stroke-width="0.25" text-anchor="middle" font-weight="normal" font-style="normal">O</text>
<line x1="254" y1="388.6" x2="261.4" y2="401.7" stroke="#7a7a7a" stroke-width="1.25" stroke-linecap="round"/>
<line x1="270" y1="392.6" x2="270" y2="399.6" stroke="#7a7a7a" stroke-width="1.25" stroke-linecap="butt"/>
<line x1="270" y1="404.8" x2="270" y2="405.9" stroke="#7a7a7a" stroke-width="1.25" stroke-linecap="butt"/>
<line x1="25.66" y1="406.71" x2="18.04" y2="396.98" stroke="#111" stroke-width="1.45" stroke-linecap="round"/>
<line x1="23.14" y1="408.69" x2="15.52" y2="398.95" stroke="#111" stroke-width="1.45" stroke-linecap="round"/>
<text x="13.2" y="397.42" font-size="11.5" fill="#111" stroke="#111" stroke-width="0.25" text-anchor="middle" font-weight="normal" font-style="normal">O</text>
<line x1="24.4" y1="407.7" x2="39.1" y2="409.3" stroke="#111" stroke-width="1.45" stroke-linecap="round"/>
<line x1="39.1" y1="409.3" x2="57.9" y2="409.3" stroke="#111" stroke-width="1.45" stroke-linecap="round"/>
<line x1="57.9" y1="409.3" x2="57.9" y2="428" stroke="#111" stroke-width="1.45" stroke-linecap="round"/>
<line x1="57.9" y1="428" x2="39.1" y2="428" stroke="#111" stroke-width="1.45" stroke-linecap="round"/>
<line x1="39.1" y1="428" x2="39.1" y2="409.3" stroke="#111" stroke-width="1.45" stroke-linecap="round"/>
<line x1="39.1" y1="428" x2="25.2" y2="434.6" stroke="#111" stroke-width="1.45" stroke-linecap="round"/>
<line x1="25.2" y1="434.6" x2="14.7" y2="422" stroke="#ff1a1a" stroke-width="1.45" stroke-linecap="round"/>
<line x1="26.4" y1="430.73" x2="18.72" y2="421.51" stroke="#ff1a1a" stroke-width="1.45" stroke-linecap="round"/>
<line x1="14.7" y1="422" x2="24.4" y2="407.7" stroke="#111" stroke-width="1.45" stroke-linecap="round"/>
<polygon points="57.89,409.65 69.94,411.6 70.06,407.8 57.91,408.95" fill="#111" stroke="none" stroke-width="0" stroke-linejoin="miter"/>
<text x="75.7" y="414.42" font-size="11.5" fill="#111" stroke="#111" stroke-width="0.15" text-anchor="middle" font-weight="bold" font-style="normal">H</text>
<line x1="61.17" y1="428.92" x2="61.22" y2="427.3" stroke="#111" stroke-width="1.3" stroke-linecap="butt"/>
<line x1="63.85" y1="429.55" x2="63.94" y2="426.85" stroke="#111" stroke-width="1.3" stroke-linecap="butt"/>
<line x1="66.53" y1="430.18" x2="66.66" y2="426.4" stroke="#111" stroke-width="1.3" stroke-linecap="butt"/>
<line x1="69.21" y1="430.81" x2="69.37" y2="425.95" stroke="#111" stroke-width="1.3" stroke-linecap="butt"/>
<text x="75.7" y="433.02" font-size="11.5" fill="#111" stroke="#111" stroke-width="0.15" text-anchor="middle" font-weight="bold" font-style="normal">H</text>
<line x1="38.29" y1="431.3" x2="39.91" y2="431.3" stroke="#111" stroke-width="1.3" stroke-linecap="butt"/>
<line x1="37.75" y1="434" x2="40.45" y2="434" stroke="#111" stroke-width="1.3" stroke-linecap="butt"/>
<line x1="37.21" y1="436.7" x2="40.99" y2="436.7" stroke="#111" stroke-width="1.3" stroke-linecap="butt"/>
<line x1="36.67" y1="439.4" x2="41.53" y2="439.4" stroke="#111" stroke-width="1.3" stroke-linecap="butt"/>
<text x="39.6" y="450.02" font-size="11.5" fill="#111" stroke="#111" stroke-width="0.15" text-anchor="middle" font-weight="bold" font-style="normal">H</text>
<line x1="25.2" y1="434.6" x2="20.9" y2="448.2" stroke="#111" stroke-width="1.45" stroke-linecap="round"/>
<text x="16.4" y="457.42" font-size="11.5" fill="#111" stroke="#111" stroke-width="0.25" text-anchor="middle" font-weight="normal" font-style="normal">Me</text>
<line x1="57.9" y1="428" x2="71.7" y2="441.1" stroke="#111" stroke-width="1.45" stroke-linecap="round"/>
<polygon points="71.58,440.77 60.52,443.32 61.88,446.88 71.82,441.43" fill="#111" stroke="none" stroke-width="0" stroke-linejoin="miter"/>
<text x="55.4" y="454.3" font-size="12" fill="#111" stroke="#111" stroke-width="0.15" text-anchor="middle" font-weight="bold" font-style="normal">H</text>
<line x1="71.7" y1="441.1" x2="71.7" y2="451.5" stroke="#111" stroke-width="1.45" stroke-linecap="round"/>
<text x="74.9" y="463.22" font-size="11.5" fill="#111" stroke="#111" stroke-width="0.25" text-anchor="middle" font-weight="normal" font-style="normal">Me</text>
<line x1="71.7" y1="441.1" x2="89" y2="441.1" stroke="#111" stroke-width="1.45" stroke-linecap="round"/>
<line x1="89" y1="441.1" x2="96.3" y2="430.3" stroke="#ff1a1a" stroke-width="1.45" stroke-linecap="round"/>
<text x="94.6" y="429.32" font-size="11.5" fill="#ff1a1a" stroke="#ff1a1a" stroke-width="0.25" text-anchor="start" font-weight="normal" font-style="normal">OMe</text>
<line x1="89" y1="441.1" x2="96.3" y2="451.9" stroke="#ff1a1a" stroke-width="1.45" stroke-linecap="round"/>
<text x="94.6" y="461.52" font-size="11.5" fill="#ff1a1a" stroke="#ff1a1a" stroke-width="0.25" text-anchor="start" font-weight="normal" font-style="normal">OMe</text>
<text x="63.9" y="478.3" font-size="11.8" fill="#111" stroke="#111" stroke-width="0.25" text-anchor="middle" font-weight="normal" font-style="normal">pepluacetal (<tspan font-weight="bold">2</tspan>)</text>
<line x1="246.72" y1="399.3" x2="240" y2="389.48" stroke="#111" stroke-width="1.45" stroke-linecap="round"/>
<line x1="244.08" y1="401.1" x2="237.36" y2="391.29" stroke="#111" stroke-width="1.45" stroke-linecap="round"/>
<text x="235.4" y="389.62" font-size="11.5" fill="#111" stroke="#111" stroke-width="0.25" text-anchor="middle" font-weight="normal" font-style="normal">O</text>
<line x1="245.4" y1="400.2" x2="261.6" y2="401.7" stroke="#111" stroke-width="1.45" stroke-linecap="round"/>
<line x1="261.6" y1="401.7" x2="280.3" y2="401.7" stroke="#111" stroke-width="1.45" stroke-linecap="round"/>
<line x1="280.3" y1="401.7" x2="280.3" y2="420.8" stroke="#111" stroke-width="1.45" stroke-linecap="round"/>
<line x1="280.3" y1="420.8" x2="261.6" y2="420.8" stroke="#111" stroke-width="1.45" stroke-linecap="round"/>
<line x1="261.6" y1="420.8" x2="261.6" y2="401.7" stroke="#111" stroke-width="1.45" stroke-linecap="round"/>
<line x1="261.6" y1="420.8" x2="247.3" y2="427.5" stroke="#111" stroke-width="1.45" stroke-linecap="round"/>
<line x1="247.3" y1="427.5" x2="236.2" y2="414" stroke="#111" stroke-width="1.45" stroke-linecap="round"/>
<line x1="236.2" y1="414" x2="245.4" y2="400.2" stroke="#111" stroke-width="1.45" stroke-linecap="round"/>
<line x1="262.54" y1="401.7" x2="279.74" y2="401.7" stroke="#ff1a1a" stroke-width="1.55" stroke-linecap="butt"/>
<line x1="262.54" y1="420.8" x2="279.74" y2="420.8" stroke="#ff1a1a" stroke-width="1.55" stroke-linecap="butt"/>
<polygon points="280.29,402.05 291.53,404.2 291.67,400 280.31,401.35" fill="#111" stroke="none" stroke-width="0" stroke-linejoin="miter"/>
<text x="297.7" y="407" font-size="12" fill="#111" stroke="#111" stroke-width="0.25" text-anchor="middle" font-weight="normal" font-style="normal">H</text>
<line x1="283.57" y1="421.73" x2="283.63" y2="420.11" stroke="#111" stroke-width="1.3" stroke-linecap="butt"/>
<line x1="286.25" y1="422.36" x2="286.34" y2="419.66" stroke="#111" stroke-width="1.3" stroke-linecap="butt"/>
<line x1="288.93" y1="423" x2="289.06" y2="419.22" stroke="#111" stroke-width="1.3" stroke-linecap="butt"/>
<line x1="291.61" y1="423.63" x2="291.78" y2="418.77" stroke="#111" stroke-width="1.3" stroke-linecap="butt"/>
<text x="297.7" y="425.8" font-size="12" fill="#111" stroke="#111" stroke-width="0.25" text-anchor="middle" font-weight="normal" font-style="normal">H</text>
<line x1="260.84" y1="424.11" x2="262.46" y2="424.09" stroke="#111" stroke-width="1.3" stroke-linecap="butt"/>
<line x1="260.35" y1="426.82" x2="263.05" y2="426.78" stroke="#111" stroke-width="1.3" stroke-linecap="butt"/>
<line x1="259.85" y1="429.53" x2="263.63" y2="429.47" stroke="#111" stroke-width="1.3" stroke-linecap="butt"/>
<line x1="259.35" y1="432.24" x2="264.21" y2="432.16" stroke="#111" stroke-width="1.3" stroke-linecap="butt"/>
<text x="262.2" y="443.22" font-size="11.5" fill="#111" stroke="#111" stroke-width="0.25" text-anchor="middle" font-weight="normal" font-style="normal">H</text>
<line x1="245.35" y1="430.29" x2="246.86" y2="430.87" stroke="#111" stroke-width="1.3" stroke-linecap="butt"/>
<line x1="243.88" y1="432.61" x2="246.39" y2="433.58" stroke="#111" stroke-width="1.3" stroke-linecap="butt"/>
<line x1="242.4" y1="434.93" x2="245.92" y2="436.3" stroke="#111" stroke-width="1.3" stroke-linecap="butt"/>
<line x1="240.92" y1="437.26" x2="245.45" y2="439.01" stroke="#111" stroke-width="1.3" stroke-linecap="butt"/>
<line x1="239.44" y1="439.58" x2="244.98" y2="441.72" stroke="#111" stroke-width="1.3" stroke-linecap="butt"/>
<text x="238.8" y="449.62" font-size="11.5" fill="#111" stroke="#111" stroke-width="0.25" text-anchor="middle" font-weight="normal" font-style="normal">Me</text>
<line x1="280.3" y1="420.8" x2="293.4" y2="432.9" stroke="#111" stroke-width="1.45" stroke-linecap="round"/>
<polygon points="293.23,432.59 284.59,435.36 286.61,439.04 293.57,433.21" fill="#111" stroke="none" stroke-width="0" stroke-linejoin="miter"/>
<text x="281.3" y="447" font-size="12" fill="#111" stroke="#111" stroke-width="0.25" text-anchor="middle" font-weight="normal" font-style="normal">H</text>
<line x1="293.4" y1="432.9" x2="293.4" y2="444.4" stroke="#111" stroke-width="1.45" stroke-linecap="round"/>
<text x="297.5" y="455.62" font-size="11.5" fill="#111" stroke="#111" stroke-width="0.25" text-anchor="middle" font-weight="normal" font-style="normal">Me</text>
<line x1="293.4" y1="432.9" x2="311.9" y2="432.9" stroke="#111" stroke-width="1.45" stroke-linecap="round"/>
<line x1="311.9" y1="432.9" x2="317.2" y2="442.2" stroke="#111" stroke-width="1.45" stroke-linecap="round"/>
<text x="316.3" y="453.02" font-size="11.5" fill="#111" stroke="#111" stroke-width="0.25" text-anchor="start" font-weight="normal" font-style="normal">OTBDPS</text>
<polyline points="273.3,397.1 273.3,457 300.5,470.7" fill="none" stroke="#fff" stroke-width="5" stroke-linejoin="miter" stroke-linecap="butt"/>
<text x="273.9" y="414.32" font-size="9.5" fill="#8a8a8a" stroke="#8a8a8a" stroke-width="0.25" text-anchor="middle" font-weight="normal" font-style="normal">Me</text>
<polyline points="273.3,397.1 273.3,457" fill="none" stroke="#1b7fc6" stroke-width="2.8" stroke-linejoin="miter" stroke-linecap="butt"/>
<polyline points="273.3,456 273.3,457 300.5,470.7" fill="none" stroke="#1b7fc6" stroke-width="1.5" stroke-linejoin="miter" stroke-linecap="butt"/>
<text x="275.8" y="477.72" font-size="11.5" fill="#111" stroke="#111" stroke-width="0.15" text-anchor="middle" font-weight="bold" font-style="normal">9</text>
<text x="343.4" y="476.1" font-size="11.8" fill="#1b7fc6" stroke="#1b7fc6" stroke-width="0.12" text-anchor="middle" font-weight="normal" font-style="italic">[2+2] type</text>
<text x="343.4" y="488.9" font-size="11.8" fill="#1b7fc6" stroke="#1b7fc6" stroke-width="0.12" text-anchor="middle" font-weight="normal" font-style="italic">photocycloaddition</text>
</svg>
</body></html>
